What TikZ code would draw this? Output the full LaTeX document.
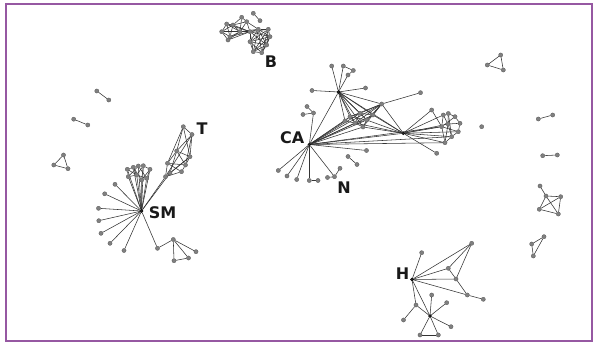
\documentclass[tikz,border=0pt]{standalone}
\usepackage{fontspec}
\setmainfont{DejaVu Sans}
\pgfdeclarelayer{bg}
\pgfdeclarelayer{edges}
\pgfsetlayers{bg,edges,main}
\definecolor{frame}{RGB}{150,88,162}
\tikzset{
  v/.style={circle,inner sep=0pt,minimum size=4.2pt,fill=black!50,draw=black!65,line width=0.3pt},
  hub/.style={circle,inner sep=0pt,minimum size=3pt,fill=black!85,draw=black},
  edge/.style={line width=0.55pt,draw=black!80},
  lab/.style={font=\fontsize{16}{16}\selectfont\bfseries,inner sep=0pt,text=black!90},
}
\begin{document}
\begin{tikzpicture}[x=1pt,y=-1pt]
\useasboundingbox (0,0) rectangle (595,342);
\begin{pgfonlayer}{bg}
\fill[white] (0,0) rectangle (595,342);
\end{pgfonlayer}
\draw[frame,line width=2pt] (5.5,4) rectangle (592,340.5);

% ---------- vertices ----------
\foreach \n/\x/\y in {
  % B group
  b1/221.7/31.7, b2/226.7/24, b3/233/25, b4/241.7/17.3, b5/246.7/21.7,
  b6/230/36.7, b7/228/40, b8/240/31.7, b9/250/31.7, b10/258.3/29.3,
  b11/268.3/29.3, b12/270/36.7, b13/266.7/45, b14/253.3/51.7, b15/261.7/52.7,
  b16/250/41.7, bp1/253.3/13.3, bp2/260/20.7,
  % CA group
  t1/331.7/66, t2/343.3/66, t3/353.3/70.5, t4/348/75,
  ul/312/90.5, ur/365.5/88,
  s1/350/116.7, s2/360/113.3, s3/366.7/120, s4/355/123, s5/373/115,
  s6/363/127, s7/345/121, st/381.7/104, fr/420.5/92.7,
  r1/431.7/110, r2/443.3/115, r3/448.3/113.5, r4/455/116.7, r5/460/123.3,
  r6/458.3/131.7, r7/451.7/136.7, r8/445/142.7, r9/441.7/126.7, r10/448/124,
  rp/436.7/153.3, riso/481.7/126.7,
  d1/307/106.5, d2/303/114.5, d3/313.5/113,
  e1/366.5/150.5, f1/348/156.5, f2/357/164.5,
  n1/340/168.3, n2/334.5/176.7, n3/327.5/177.5,
  g1/309.3/180.5, g2/318/180.5,
  h1/278.3/170.5, h2/287/176, h3/296.7/179.5,
  % SM group
  p1/115/184.3, p2/104.7/193.8, p3/98.5/208.3, p4/98.8/220.7, p5/101/233.3,
  p6/110/243.3, p7/124/250.5,
  q1/157.5/248.3, q2/173.3/239.5, q3/174/260.7, q4/188.5/258, q5/196/251.7,
  c1/127.3/169.3, c2/133.3/167.3, c3/138.3/166, c4/143.3/165.7, c5/150/169.3,
  c6/128.3/176.7, c7/136.7/175, c8/146.7/178.3, c9/141.7/180,
  % T group
  tA/183.3/126.7, tB/192/134.5, tC/176.7/151, tD/190/156.7, tE/167.5/163.3,
  tF/185.5/165, tG/165.5/176.7, tH/181.5/171.7, tI/170/173,
  % small components, left
  l1/96.8/91, l2/108.8/100, l3/73.7/119.2, l4/87.8/125,
  l5/63.5/155, l6/53.8/165, l7/68/168.7,
  % small components, right
  ra1/500.7/55, ra2/487.3/65, ra3/503.3/70,
  rb1/538.3/119, rb2/552.7/115, rc1/542.7/155.7, rc2/557.3/155,
  rq0/540/186, rq1/546/196, rq2/560.7/196.7, rq3/539.3/209.3, rq4/558.3/214,
  rt1/544/236.7, rt2/531.7/244, rt3/533.3/256,
  % H group
  ha/471.7/243.3, hb/421.7/252.7, hc/448.3/268.3, hd/456/279, he/467.3/295,
  hf/483.3/299.3, hg/416/305, hi/403.5/320, hk/431.7/295, hl/446.7/302.7,
  hm/451/326.7, hn/420/335, ho/438.3/335}
  \node[v] (\n) at (\x,\y) {};

\foreach \n/\x/\y in {ca/309.3/144.5, uh/338.5/92, br/403.3/133.3,
  sm/141.5/211, hh/412/279.5, hj/430/316}
  \node[hub] (\n) at (\x,\y) {};

% ---------- labels ----------
\node[lab] (labB)  at (271,61.3)   {B};
\node[lab] (labT)  at (202,129)    {T};
\node[lab] (labCA) at (292.3,138)  {CA};
\node[lab] (labN)  at (344,187.5)  {N};
\node[lab] (labSM) at (162.5,212.5){SM};
\node[lab] (labH)  at (402.5,274)  {H};

% ---------- edges ----------
\begin{pgfonlayer}{edges}
\foreach \a/\b in {
  % B
  b1/b2, b1/b6, b1/b7, b1/b8, b1/b3, b2/b3, b2/b8, b2/b6, b3/b4, b3/b5,
  b3/b8, b3/b6, b4/b5, b4/b8, b5/b9, b5/b8, b6/b8, b7/b8, b6/b9, b8/b9,
  b7/b9, b8/b10, b5/b10, b3/b9, b1/b9, b2/b9,
  b9/b10, b9/b11, b9/b12, b9/b13, b9/b14, b9/b16, b10/b11, b10/b12, b10/b13,
  b10/b14, b10/b15, b10/b16, b11/b12, b11/b13, b11/b16, b12/b13, b12/b14,
  b12/b15, b12/b16, b13/b14, b13/b15, b13/b16, b14/b15, b14/b16, b15/b16,
  b11/b14, b11/b15, bp1/bp2,
  % CA
  uh/t1, uh/t2, t2/t3, t3/t4, t4/uh, uh/ul, uh/ur, uh/ca,
  uh/s1, uh/s2, uh/s3, uh/s4, uh/s5, uh/s6, uh/s7, uh/st, uh/br,
  ca/s1, ca/s2, ca/s3, ca/s4, ca/s5, ca/s6, ca/s7, ca/st, ca/br,
  ca/r9, ca/r8, ca/r7, ca/e1,
  s1/s2, s2/s5, s5/st, s1/s4, s4/s6, s6/s3, s3/s5, s2/s3, s1/s3, s2/s4,
  s4/s3, s7/s1, s7/s4, s1/st, s2/st, s3/st, s4/st, s6/st,
  s3/br, s5/br, s6/br, s4/br, st/br, st/fr,
  br/r1, br/r2, br/r9, br/r8, br/r7, br/r6, br/r10, br/rp, r1/r9,
  r2/r3, r3/r4, r4/r5, r5/r6, r6/r7, r7/r8, r8/r9, r9/r2,
  r2/r10, r10/r5, r9/r6, r3/r7, r4/r9, r10/r7, r10/r8, r3/r10,
  d1/d3, d2/d3, d3/ca, f1/f2,
  ca/n2, n1/n2, n3/n2, ca/g1, g1/g2, ca/h1, ca/h2, ca/h3,
  % SM
  sm/p1, sm/p2, sm/p3, sm/p4, sm/p5, sm/p6, sm/p7,
  sm/q1, q1/q2, q2/q3, q2/q4, q3/q4, q2/q5,
  sm/c1, sm/c2, sm/c3, sm/c4, sm/c5, sm/c6, sm/c7, sm/c8, sm/c9,
  c1/c2, c2/c3, c3/c4, c4/c5, c1/c6, c6/c7, c7/c8, c8/c5, c2/c7, c3/c8,
  c1/c7, c4/c9, c5/c9, c2/c9, c6/c3, c4/c7, c9/c8,
  % T
  sm/tG, sm/tI,
  tA/tB, tA/tC, tB/tD, tB/tF, tC/tE, tC/tD, tC/tB, tA/tE, tE/tG, tE/tH,
  tD/tF, tF/tH, tG/tH, tD/tG, tB/tG, tC/tF, tE/tF, tA/tD, tI/tC, tI/tD,
  % small components
  l1/l2, l3/l4, l5/l6, l6/l7, l7/l5,
  ra1/ra2, ra2/ra3, ra3/ra1, rb1/rb2, rc1/rc2,
  rq0/rq1, rq1/rq2, rq2/rq4, rq4/rq3, rq3/rq1, rq1/rq4, rq2/rq3,
  rt1/rt2, rt2/rt3, rt3/rt1,
  % H
  hh/ha, hh/hb, hh/hc, hh/hd, hh/he, ha/hc, ha/hd, hc/hd, hd/he, he/hf,
  hh/hg, hg/hi, hg/hj, hh/hj, hj/hk, hj/hl, hj/hm, hj/hn, hj/ho, hn/ho}
  \draw[edge] (\a) -- (\b);
\end{pgfonlayer}
\end{tikzpicture}
\end{document}
